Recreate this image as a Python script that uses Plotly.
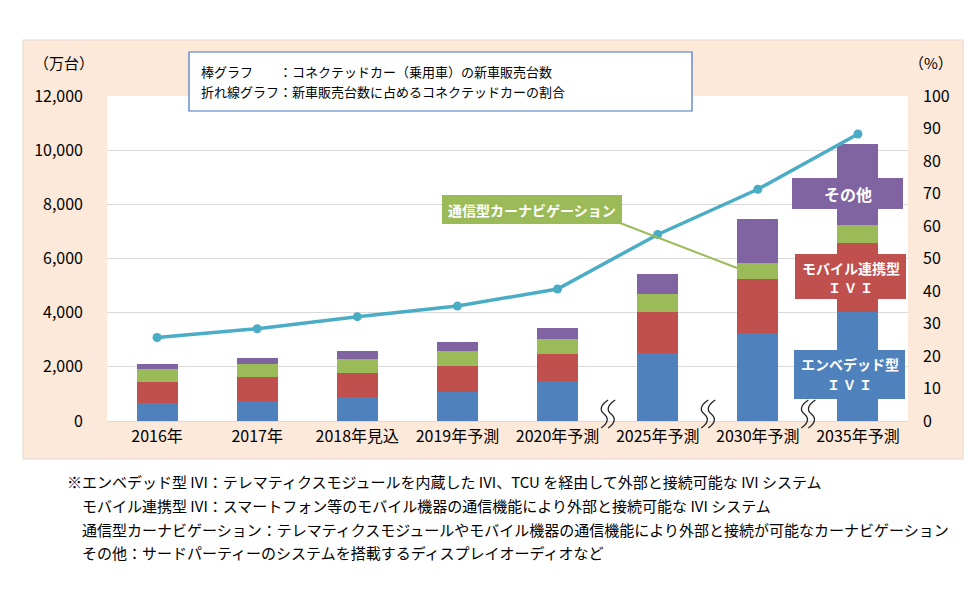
import plotly.graph_objects as go

categories = ["2016年", "2017年", "2018年見込", "2019年予測", "2020年予測", "2025年予測", "2030年予測", "2035年予測"]
embedded = [680, 730, 875, 1070, 1465, 2520, 3260, 4035]
mobile = [760, 910, 910, 970, 1010, 1505, 1985, 2550]
navi = [470, 470, 505, 545, 545, 655, 580, 645]
other = [185, 230, 295, 330, 430, 750, 1650, 3000]
share_pct = [25.7, 28.4, 32.1, 35.4, 40.6, 57.4, 71.3, 88.3]

left_ticks = [0, 2000, 4000, 6000, 8000, 10000, 12000]
left_ticklabels = ["0", "2,000", "4,000", "6,000", "8,000", "10,000", "12,000"]
right_ticks = list(range(0, 101, 10))

series = [
    ("エンベデッド型IVI", embedded, "#4F81BD"),
    ("モバイル連携型IVI", mobile, "#C0504D"),
    ("通信型カーナビゲーション", navi, "#9BBB59"),
    ("その他", other, "#8064A2"),
]

FONT = "Noto Sans CJK JP"

fig = go.Figure()
for name, vals, col in series:
    fig.add_trace(go.Bar(x=categories, y=vals, name=name, marker=dict(color=col, line=dict(width=0)),
                         yaxis="y"))
fig.add_trace(go.Scatter(x=categories, y=share_pct, yaxis="y2", mode="lines+markers",
                         line=dict(color="#4BACC6", width=3.5), marker=dict(size=9, color="#4BACC6"),
                         name="割合"))

# plot geometry (pixels) for decoration placement
L, R, T, B = 107, 908, 96, 421
W, H = R - L, B - T
def px(x):
    return (x - L) / W
def py(y):
    return (B - y) / H

shapes = []
# peach panel
shapes.append(dict(type="rect", xref="paper", yref="paper", x0=px(23), x1=px(963), y0=py(459), y1=py(40),
                   fillcolor="#FDE9DA", line=dict(color="#E3D6CC", width=1), layer="below"))
# white plot area
shapes.append(dict(type="rect", xref="paper", yref="paper", x0=0, x1=1, y0=0, y1=1,
                   fillcolor="white", line=dict(width=0), layer="below"))
# legend/explanation box
shapes.append(dict(type="rect", xref="paper", yref="paper", x0=px(189), x1=px(692), y0=py(111), y1=py(52),
                   fillcolor="white", line=dict(color="#4472C4", width=1.2)))

# break marks between categories 4|5, 5|6, 6|7
n = len(categories)
for i in [5, 6, 7]:
    cx = L + W * i / n
    for o in (-3.5, 3.5):
        x = cx + o
        pts = [(x + 4, 400), (x - 5, 406), (x - 4, 411), (x + 0, 414), (x + 5, 418), (x + 4, 423), (x - 3, 428)]
        p = "M {},{} C {},{} {},{} {},{} C {},{} {},{} {},{}".format(
            *[v for pt in pts for v in (px(pt[0]), py(pt[1]))])
        shapes.append(dict(type="path", xref="paper", yref="paper", path=p,
                           line=dict(color="#222222", width=1.3)))

# callout boxes
def box(x0, x1, y0, y1, col):
    shapes.append(dict(type="rect", xref="paper", yref="paper", x0=px(x0), x1=px(x1), y0=py(y1), y1=py(y0),
                       fillcolor=col, line=dict(width=0)))

box(792, 903, 178, 209, "#8064A2")
box(795, 906, 254, 299, "#C0504D")
box(794, 905, 350, 399, "#4F81BD")
box(442, 622, 195, 224, "#9BBB59")
shapes.append(dict(type="line", xref="paper", yref="paper", x0=px(620), y0=py(223), x1=px(737), y1=py(268),
                   line=dict(color="#9BBB59", width=2)))

ann = []
def text(x, y, s, size=14, color="black", anchor="left", bold=False):
    ann.append(dict(xref="paper", yref="paper", x=px(x), y=py(y), text=(f"<b>{s}</b>" if bold else s),
                    showarrow=False, xanchor=anchor, yanchor="middle",
                    font=dict(family=FONT, size=size, color=color)))

text(199, 72, "棒グラフ　　：コネクテッドカー（乗用車）の新車販売台数", 13)
text(199, 92, "折れ線グラフ：新車販売台数に占めるコネクテッドカーの割合", 13)
text(64, 62, "（万台）", 15, anchor="center")
text(931, 62, "（%）", 15, anchor="center")
text(847.5, 194, "その他", 16, "white", "center", True)
text(850.5, 268, "モバイル連携型", 14, "white", "center", True)
text(850.5, 287, "Ｉ Ｖ Ｉ", 13, "white", "center", True)
text(849.5, 364, "エンベデッド型", 14, "white", "center", True)
text(849.5, 384, "Ｉ Ｖ Ｉ", 13, "white", "center", True)
text(532, 210, "通信型カーナビゲーション", 14, "white", "center", True)

notes = [
    (65, 481, "※エンベデッド型 IVI：テレマティクスモジュールを内蔵した IVI、TCU を経由して外部と接続可能な IVI システム"),
    (80, 505, "モバイル連携型 IVI：スマートフォン等のモバイル機器の通信機能により外部と接続可能な IVI システム"),
    (80, 529, "通信型カーナビゲーション：テレマティクスモジュールやモバイル機器の通信機能により外部と接続が可能なカーナビゲーション"),
    (80, 552, "その他：サードパーティーのシステムを搭載するディスプレイオーディオなど"),
]
for x, y, s in notes:
    text(x, y, s, 15)

fig.update_layout(
    width=968, height=605,
    margin=dict(l=L, r=968 - R, t=T, b=605 - B, pad=0),
    barmode="stack", bargap=0.59,
    showlegend=False,
    paper_bgcolor="white", plot_bgcolor="white",
    font=dict(family=FONT, size=16, color="black"),
    xaxis=dict(type="category", showgrid=False, showline=False, ticks="", tickfont=dict(size=16),
               ticklabelstandoff=4),
    yaxis=dict(range=[0, 12000], tickvals=left_ticks, ticktext=left_ticklabels, showgrid=True,
               gridcolor="#D9D9D9", gridwidth=1, zeroline=True, zerolinecolor="#D9D9D9", zerolinewidth=1,
               showline=False, ticks="", tickfont=dict(size=16), ticklabelstandoff=23),
    yaxis2=dict(range=[0, 100], tickvals=right_ticks, overlaying="y", side="right", showgrid=False,
                zeroline=False, showline=False, ticks="", tickfont=dict(size=16), ticklabelstandoff=14),
    shapes=shapes, annotations=ann,
)

fig.write_html("out.html")
